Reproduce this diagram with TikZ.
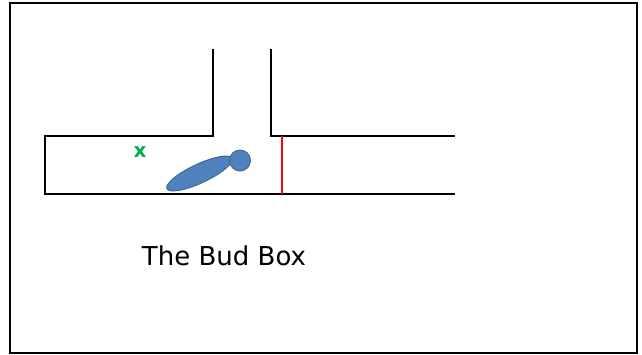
\documentclass[tikz,border=0pt]{standalone}
\usepackage{fontspec}
\setmainfont{DejaVu Sans}
\usepackage{tikz}
\definecolor{budblue}{RGB}{79, 129, 189}
\definecolor{budedge}{RGB}{56, 93, 138}
\definecolor{budgreen}{RGB}{0, 176, 80}
\definecolor{budred}{RGB}{255, 0, 0}

\begin{document}
\begin{tikzpicture}[x=0.75pt,y=0.75pt,yscale=-1,xscale=1]
\useasboundingbox (0,0) rectangle (642,354);

%Shape: Frame
\draw [line width=1.5pt] (10,3) rectangle (637,353);
%Straight Lines: left arm of the alley
\draw [line width=1.3pt] (213,49) -- (213,136) -- (45,136) -- (45,194) -- (455,194) ;
%Straight Lines: right arm of the alley
\draw [line width=1.3pt] (271,49) -- (271,136) -- (455,136) ;
%Straight Lines: gate
\draw [color=budred ,line width=1.3pt] (282,136) -- (282,194) ;
%Shape: Ellipse (body)
\draw [color=budedge ,fill=budblue ,line width=0.6pt] (199.5,173.5) ellipse [x radius=36, y radius=9.5, rotate=-25] ;
%Shape: Circle (head)
\draw [color=budedge ,fill=budblue ,line width=0.6pt] (240,160.5) circle [radius=10.5] ;

% Text Node
\node (mark) at (140,152) [inner sep=0.75pt, text=budgreen] {\fontsize{15}{18}\selectfont\bfseries x};
% Text Node
\node (title) at (224,256) [inner sep=0.75pt] {\fontsize{19.5}{23}\selectfont The Bud Box};

\end{tikzpicture}
\end{document}
